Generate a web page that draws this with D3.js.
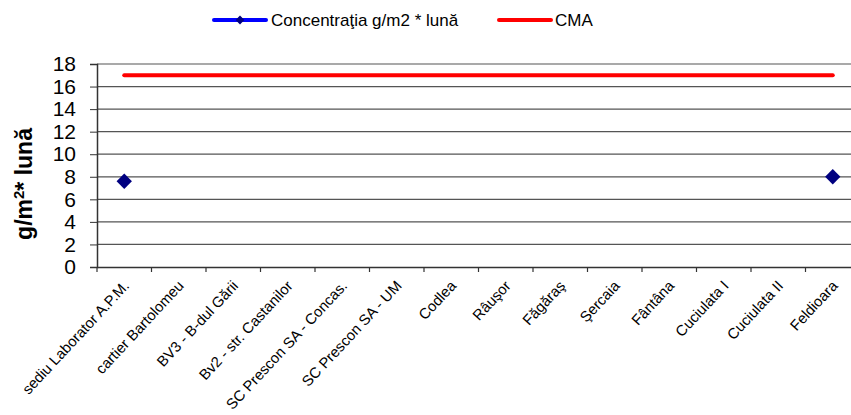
<!DOCTYPE html>
<html>
<head>
<meta charset="utf-8">
<script src="https://cdn.jsdelivr.net/npm/d3@7"></script>
<style>
  body { margin: 0; background: #fff; }
  svg { display: block; font-family: "Liberation Sans", Arial, sans-serif; }
</style>
</head>
<body>
<div id="chart"></div>
<script>
// data
var locations = ["sediu Laborator A.P.M.", "cartier Bartolomeu", "BV3 - B-dul Gării",
  "Bv2 - str. Castanilor", "SC Prescon SA - Concas.", "SC Prescon SA - UM", "Codlea",
  "Râuşor", "Făgăraş", "Şercaia", "Fântâna", "Cuciulata I", "Cuciulata II", "Feldioara"];
var concentration = [7.6, null, null, null, null, null, null, null, null, null, null, null, null, 8.0];
var cma = [17, 17, 17, 17, 17, 17, 17, 17, 17, 17, 17, 17, 17, 17];
var yTicks = [0, 2, 4, 6, 8, 10, 12, 14, 16, 18];

var svgWidth = 851;
var svgHeight = 415;

var margin = { top: 64, left: 97, right: -9, bottom: 148 };
var width = svgWidth - margin.left - margin.right;
var height = svgHeight - margin.top - margin.bottom;

var svg = d3.select("#chart")
  .append("svg")
  .attr("width", svgWidth)
  .attr("height", svgHeight);

var chartGroup = svg.append("g")
  .attr("transform", `translate(${margin.left}, ${margin.top})`);

// scales
var xScale = d3.scaleBand()
  .domain(locations)
  .range([0, width]);

var yScale = d3.scaleLinear()
  .domain([0, 18])
  .range([height, 0]);

var xCenter = d => xScale(d) + xScale.bandwidth() / 2;

// gridlines
chartGroup.append("g")
  .selectAll("line")
  .data(yTicks.filter(t => t > 0))
  .enter()
  .append("line")
  .attr("x1", 0)
  .attr("x2", width)
  .attr("y1", d => yScale(d))
  .attr("y2", d => yScale(d))
  .attr("stroke", "#555")
  .attr("stroke-width", 1.2);

// y axis
var yAxis = chartGroup.append("g")
  .call(d3.axisLeft(yScale).tickValues(yTicks).tickSize(7).tickPadding(14));
yAxis.select(".domain").attr("stroke", "#333").attr("stroke-width", 1.5);
yAxis.selectAll(".tick line").attr("stroke", "#333");
yAxis.selectAll("text")
  .attr("font-size", "21px")
  .attr("font-family", "Liberation Sans, Arial, sans-serif")
  .attr("fill", "#000");

// x axis
var xAxis = chartGroup.append("g")
  .attr("transform", `translate(0, ${height})`)
  .call(d3.axisBottom(xScale).tickSizeOuter(0).tickSizeInner(0).tickFormat(""));
xAxis.select(".domain").attr("stroke", "#333").attr("stroke-width", 1.5);
xAxis.selectAll(".tick").remove();

// tick marks on band edges
chartGroup.append("g")
  .selectAll("line")
  .data(locations)
  .enter()
  .append("line")
  .attr("x1", d => xScale(d))
  .attr("x2", d => xScale(d))
  .attr("y1", height)
  .attr("y2", height + 5)
  .attr("stroke", "#333")
  .attr("stroke-width", 1.2);

// rotated category labels
chartGroup.append("g")
  .selectAll("text")
  .data(locations)
  .enter()
  .append("text")
  .attr("transform", d => `translate(${xCenter(d) + 2}, ${height + 16}) rotate(-47)`)
  .attr("text-anchor", "end")
  .attr("dy", "0.35em")
  .attr("font-size", "14.8px")
  .attr("fill", "#000")
  .text(d => d);

// y title
svg.append("text")
  .attr("transform", "translate(24, 184) rotate(-90)")
  .attr("text-anchor", "middle")
  .attr("dy", "0.35em")
  .attr("font-size", "23px")
  .attr("font-weight", "bold")
  .attr("fill", "#000")
  .html("g/m<tspan dy='-8' font-size='15px'>2</tspan><tspan dy='8'>* lună</tspan>");

// CMA line
var cmaLine = d3.line()
  .x((d, i) => xCenter(locations[i]))
  .y(d => yScale(d));

chartGroup.append("path")
  .datum(cma)
  .attr("d", cmaLine)
  .attr("fill", "none")
  .attr("stroke", "#ff0000")
  .attr("stroke-width", 4)
  .attr("stroke-linecap", "round");

// concentration points (diamonds)
var diamond = d3.symbol().type(d3.symbolDiamond2).size(150);
chartGroup.append("g")
  .selectAll("path")
  .data(concentration.map((v, i) => ({ loc: locations[i], v: v })).filter(d => d.v !== null))
  .enter()
  .append("path")
  .attr("d", diamond)
  .attr("transform", d => `translate(${xCenter(d.loc)}, ${yScale(d.v)})`)
  .attr("fill", "#000080");

// legend
var legend = svg.append("g");
legend.append("line")
  .attr("x1", 214).attr("x2", 266).attr("y1", 20).attr("y2", 20)
  .attr("stroke", "#0000ff").attr("stroke-width", 4).attr("stroke-linecap", "round");
legend.append("path")
  .attr("d", d3.symbol().type(d3.symbolDiamond2).size(50))
  .attr("transform", "translate(240, 20)")
  .attr("fill", "#000080");
legend.append("text")
  .attr("x", 271).attr("y", 20).attr("dy", "0.35em")
  .attr("font-size", "17px").attr("fill", "#000")
  .text("Concentraţia g/m2 * lună");
legend.append("line")
  .attr("x1", 499).attr("x2", 551).attr("y1", 20).attr("y2", 20)
  .attr("stroke", "#ff0000").attr("stroke-width", 4).attr("stroke-linecap", "round");
legend.append("text")
  .attr("x", 555).attr("y", 20).attr("dy", "0.35em")
  .attr("font-size", "17px").attr("fill", "#000")
  .text("CMA");
</script>
</body>
</html>
